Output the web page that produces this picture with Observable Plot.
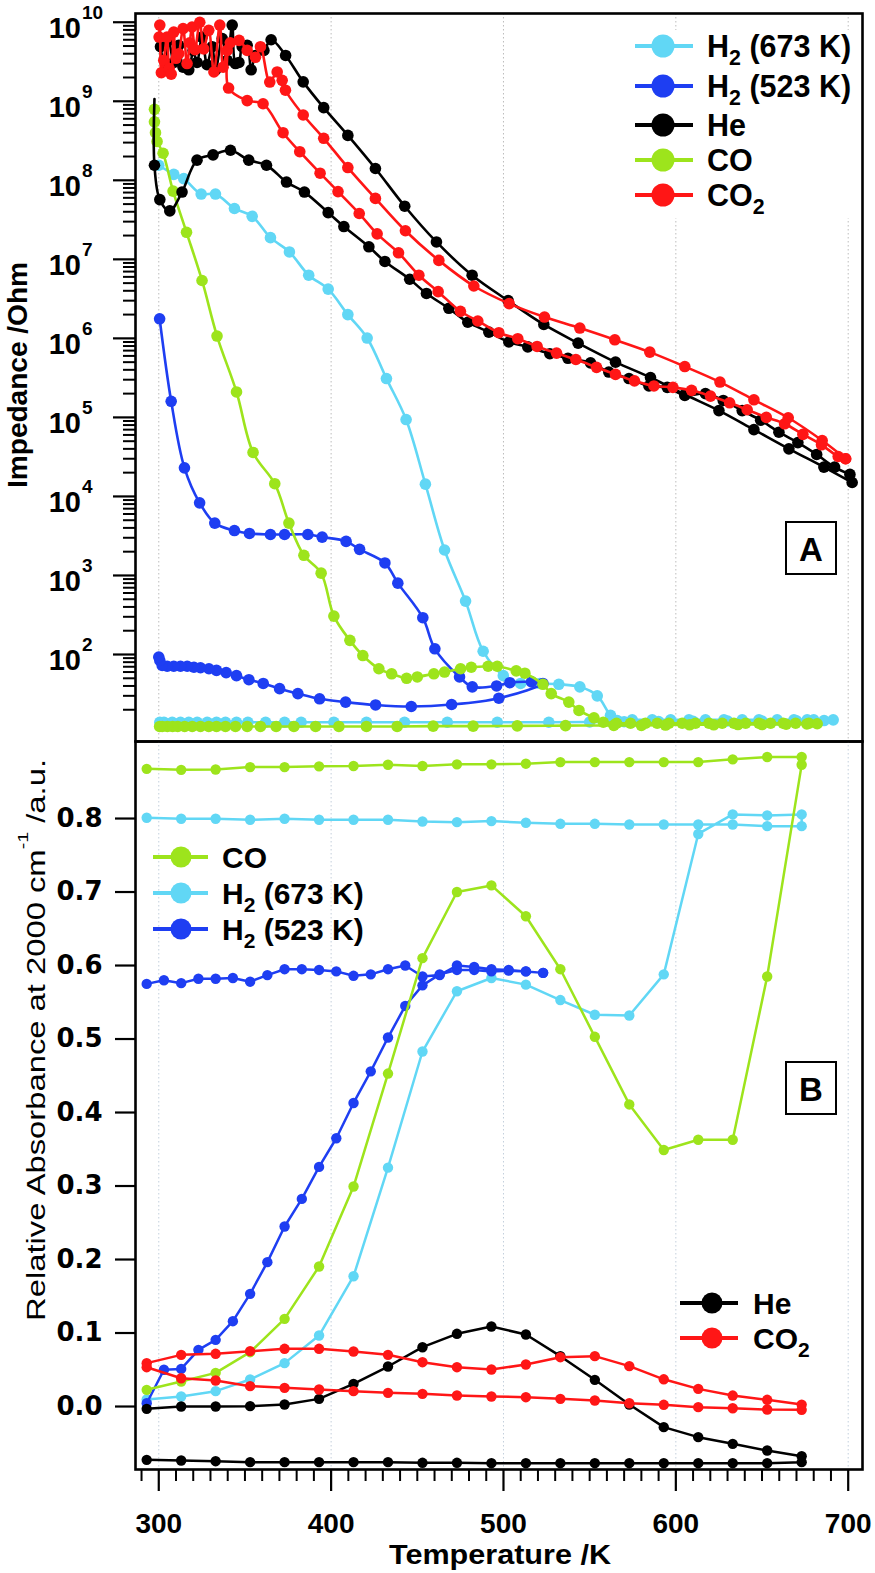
<!DOCTYPE html>
<html><head><meta charset="utf-8">
<script src="https://cdn.jsdelivr.net/npm/d3@7"></script>
<script src="https://cdn.jsdelivr.net/npm/@observablehq/plot@0.6"></script>
<style>
body{margin:0;background:#fff;}
#wrap{position:relative;width:875px;height:1573px;overflow:hidden;}
#wrap svg{position:absolute;left:0;top:0;}
.pb g[aria-label="y-axis tick label"]{font-family:"DejaVu Sans";font-weight:bold;font-size:26px;}
.pb g[aria-label="x-axis tick label"]{font-family:"Liberation Sans",Arial;font-weight:bold;font-size:28px;}
</style></head><body><div id="wrap"></div><script>
// ---------- colours ----------
const C_H673 = "#61d7f5", C_H523 = "#1e3ef2", C_HE = "#000000", C_CO = "#9de41c", C_CO2 = "#ff1616";

// ---------- Panel A : impedance (T [K], Ohm) ----------
const heA_up = [[301,4.9e9],[303.9,2.5e9],[305.8,5.9e9],[308.7,3.1e9],[311.6,5.1e9],[314.1,2.7e9],[317.4,2.5e9],[319.9,4.4e9],[322.2,3.1e9],[325.1,6.5e9],[328,2.9e9],[331,4.9e9],[333,2.5e9],[336.8,6.2e9],[339.7,3.3e9],[342.6,9.2e9],[344.5,3.0e9],[346.5,3.1e9],[348.4,4.9e9],[351.3,5.1e9],[353.6,2.5e9],[356.1,3.8e9],[361,4.4e9],[365.2,6.0e9],[373.6,3.8e9],[383.8,1.76e9],[395.7,8.3e8],[409.7,3.7e8],[425.7,1.41e8],[442.7,4.7e7],[461.1,1.66e7],[481.8,6.3e6],[502.7,3.0e6],[523.4,1.5e6],[543.3,8.7e5],[565,5.0e5],[585.3,3.2e5],[605.2,1.95e5],[625,1.22e5],[645.3,7.0e4],[665.6,4.0e4],[685.9,2.35e4],[702.3,1.5e4]];
const heA_lowStart = [[297.5,1.07e9]];
const heA_low = [[297.5,1.55e8],[300.6,5.7e7],[306.4,4.1e7],[313.5,7.1e7],[322.2,1.8e8],[331.5,2.1e8],[341.6,2.4e8],[352.2,1.8e8],[362.5,1.55e8],[374.1,9.5e7],[384.5,7.1e7],[398.3,3.9e7],[407.4,2.6e7],[421.9,1.44e7],[431.2,9.4e6],[445.6,5.6e6],[455.3,3.7e6],[468.3,2.4e6],[479.3,1.6e6],[491.5,1.2e6],[503.1,9.0e5],[514.1,7.8e5],[526.9,6.4e5],[537.4,5.6e5],[550.5,4.9e5],[561.1,3.75e5],[572.8,3.1e5],[584.4,2.5e5],[595,2.4e5],[605.2,1.9e5],[617.2,2.0e5],[627.5,1.64e5],[638.5,1.22e5],[649.2,9.2e4],[659.8,6.5e4],[670.8,4.8e4],[681.7,3.4e4],[692.1,2.35e4],[701,1.9e4]];
const co2A_low = [[300.2,6.5e9],[300.6,9.2e9],[301.5,2.3e9],[302.9,3.3e9],[304.8,6.5e9],[306,2.6e9],[307.2,2.2e9],[308.7,7.5e9],[310,3.5e9],[311.6,4.0e9],[314.1,8.3e9],[316.4,3.0e9],[318,5.5e9],[319.3,8.7e9],[321,4.5e9],[323.8,1.0e10],[326.1,4.6e9],[329,7.9e9],[332,2.35e9],[335.4,9.2e9],[337.3,2.7e9],[339.7,4.4e9],[340.5,1.47e9],[351.3,1.02e9],[360.5,9.3e8],[372.1,4.0e8],[381.8,2.3e8],[393.6,1.23e8],[404,7.2e7],[416.3,3.8e7],[426.7,2.1e7],[439.1,1.21e7],[450.9,6.3e6],[462.1,3.9e6],[475,2.2e6],[485.1,1.66e6],[497.3,1.18e6],[508.3,9.9e5],[519.5,7.9e5],[530.8,6.5e5],[542,5.4e5],[554,4.3e5],[565,3.5e5],[576,2.9e5],[587.3,2.5e5],[598.3,2.4e5],[609.1,2.2e5],[620.1,1.86e5],[631.2,1.53e5],[641.4,1.25e5],[652.5,1.0e5],[663.1,8.3e4],[673.7,6.1e4],[684.5,4.5e4],[694.2,3.2e4],[698.5,3.0e4]];
const co2A_up = [[341.5,5.5e9],[346.6,5.9e9],[351.3,4.4e9],[356.1,3.6e9],[359,4.9e9],[364.4,1.75e9],[368.7,2.35e9],[371.6,1.84e9],[373.5,1.38e9],[383.8,6.7e8],[395.7,3.4e8],[409.7,1.45e8],[425.7,5.9e7],[443.1,2.3e7],[462.5,9.7e6],[482.8,4.6e6],[503.3,2.75e6],[523.8,1.86e6],[544.3,1.35e6],[564.6,9.6e5],[584.9,6.7e5],[605.2,4.4e5],[625.6,2.8e5],[645.3,1.67e5],[665.2,9.9e4],[684.9,5.1e4],[698.5,3.0e4]];
const coA = [[297.5,7.9e8],[297.5,5.5e8],[298.1,4.0e8],[299,3.1e8],[302.5,2.2e8],[308.3,7.3e7],[316.1,2.2e7],[325.1,5.4e6],[333.8,1.07e6],[345.1,2.1e5],[354.7,3.6e4],[367.3,1.45e4],[375.5,4.6e3],[384.2,1.8e3],[394.2,1.07e3],[401.6,306],[410.9,151],[418.4,97],[427.7,66],[435.1,57],[443.8,50],[450,52],[459.6,57],[465.8,60],[475.1,66],[481.3,69],[491.1,71],[496.4,71],[507.4,62],[512.4,58],[522.9,42],[527.7,32],[537.9,25],[543.8,19.6],[552.5,15.8],[557.9,13.9],[565.6,13.5],[573.7,13.5],[582.4,13.5],[589.2,13.5],[596,13.5],[603.7,13.5],[611.4,13.5],[619.2,13.5],[626.9,13.5],[633.7,13.5],[640.5,13.5],[648.2,13.5],[655,13.5],[662.3,13.5],[669.5,13.5],[677.2,13.5],[682,13.3],
  [676,13.2],[664,13.1],[650,13.0],[636,13.0],[622,12.9],[608,12.9],[594,12.8],[580,12.7],[564,12.7],[536,12.6],[508,12.5],[482.4,12.4],[459.2,12.4],[438.3,12.3],[420.5,12.3],[404.5,12.3],[391,12.3],[378.4,12.3],[368.1,12.3],[359,12.3],[351.3,12.3],[344.5,12.3],[338.7,12.3],[333.5,12.3],[329,12.3],[324.2,12.3],[319.4,12.3],[315,12.3],[311,12.3],[308,12.3],[305,12.3],[302,12.3],[300.5,12.3]];
const h673A = [[300,1.55e8],[308.7,1.19e8],[314.5,1.05e8],[324.6,6.7e7],[332.9,6.7e7],[343.9,4.4e7],[354.2,3.5e7],[364.8,1.88e7],[375.8,1.24e7],[387,6.3e6],[398.3,4.2e6],[409.7,2.0e6],[420.9,1.01e6],[432.1,3.1e5],[443.5,9.4e4],[454.7,1.43e4],[465.8,2.1e3],[478,474],[488.2,110],[499.9,54],[509.9,43],[521.1,43],[532.1,42],[544.3,39],[554.4,30],[562.1,17],[566,14.6],[574.7,14.9],[586.3,14.9],[597,14.9],[607.6,14.9],[617.2,14.9],[627.9,14.9],[638.5,14.9],[648.2,14.9],[658.8,14.9],[668.5,14.9],[676.2,14.9],[680,14.9],[691.3,14.9],
  [686,14.6],[670,14.5],[650,14.4],[630,14.4],[610,14.3],[590,14.2],[570,14.1],[550,14.0],[526.3,13.9],[496.4,13.9],[467.4,13.9],[442.6,13.9],[420.5,13.9],[401.6,13.9],[382.6,13.9],[373,13.9],[362,13.9],[351.7,13.9],[345.1,13.9],[338.7,13.9],[333.5,13.9],[328.1,13.9],[322.3,13.9],[317.4,13.9],[312.6,13.9],[307.8,13.9],[303,13.9],[300.6,13.9]];
const h523A = [[300.5,1.77e6],[307.2,1.6e5],[314.9,2.3e4],[323.7,8.3e3],[332.5,4.6e3],[343.9,3.7e3],[352.6,3.4e3],[364.8,3.3e3],[373,3.3e3],[386.5,3.3e3],[394.8,3.06e3],[408.7,2.7e3],[416.5,2.14e3],[431.2,1.44e3],[438.7,800],[453.2,292],[460.2,118],[474.5,52],[481.9,39],[496,40],[503.7,44],[516.3,45],[522.9,43],
  [497.3,28],[469.9,23.3],[446.5,22],[425.8,23],[408.4,25],[393.3,27.5],[380.7,32],[370.1,37],[360.6,43],[352.3,48],[345.1,54],[339.1,59],[333.5,63],[329.1,66],[324.2,68],[320.4,69],[316.5,71],[312.6,71],[308.7,71],[304.9,71],[302,72.6],[300.6,84],[300,93]];

// ---------- Panel B : relative absorbance ----------
const tB = [293,313,333,353,373,393,413,433,453,473,493,513,533,553,573,593,613,633,653,673];
const tB523 = [293,303,313,323,333,343,353,363,373,383,393,403,413,423,433,443,453,463,473,483,493,503,513,523];
const coB_heat = [0.0227,0.034,0.0458,0.0739,0.1193,0.1905,0.2993,0.453,0.61,0.70,0.709,0.667,0.595,0.503,0.411,0.349,0.363,0.363,0.585,0.873];
const coB_cool = [0.8676,0.8662,0.8667,0.87,0.87,0.871,0.8714,0.8732,0.8714,0.8737,0.8737,0.8746,0.8768,0.8768,0.8768,0.8768,0.8768,0.8805,0.8837,0.8837];
const h673B_heat = [0.0095,0.0136,0.0209,0.0367,0.059,0.0966,0.1773,0.325,0.483,0.565,0.583,0.574,0.553,0.533,0.532,0.588,0.779,0.8056,0.8042,0.8056];
const h673B_cool = [0.801,0.7997,0.7997,0.7983,0.7997,0.7983,0.7983,0.7983,0.796,0.7951,0.7965,0.7942,0.7928,0.7928,0.7919,0.7919,0.7919,0.7919,0.7896,0.7896];
const h523B_heat = [0.0045,0.05,0.0512,0.0771,0.0907,0.1161,0.1533,0.1964,0.2449,0.2825,0.326,0.365,0.413,0.456,0.502,0.545,0.573,0.588,0.594,0.594,0.592,0.593,0.592,0.59];
const h523B_cool = [0.575,0.58,0.576,0.582,0.582,0.583,0.578,0.587,0.595,0.595,0.594,0.592,0.586,0.588,0.595,0.6,0.585,0.587,0.6,0.598,0.595,0.594,0.592,0.59];
const heB_heat = [-0.0032,0,0,0.0005,0.0027,0.0104,0.0308,0.0544,0.0807,0.0989,0.1088,0.098,0.0685,0.0363,0.0027,-0.0281,-0.0417,-0.0508,-0.0599,-0.0676];
const heB_cool = [-0.0726,-0.0735,-0.0744,-0.0757,-0.0757,-0.0757,-0.0757,-0.0757,-0.0766,-0.0766,-0.0771,-0.0771,-0.0771,-0.0771,-0.0771,-0.0771,-0.0771,-0.0771,-0.0771,-0.0757];
const co2B_heat = [0.059,0.0703,0.0717,0.0753,0.0785,0.0785,0.0748,0.0703,0.0603,0.0535,0.0503,0.0571,0.0671,0.0685,0.0549,0.037,0.024,0.0149,0.0091,0.0026];
const co2B_cool = [0.0535,0.0385,0.0354,0.0277,0.0254,0.0231,0.0209,0.0186,0.0172,0.015,0.0136,0.0127,0.0104,0.0082,0.0045,0.0023,-0.0009,-0.0023,-0.0041,-0.0045];

// ---------- ticks ----------
const gridT = [300,400,500,600,700];
const xMajor = [300,400,500,600,700];
const xMinor = d3.range(290,701,10).filter(t => t % 100 !== 0);
const decadesA = [2,3,4,5,6,7,8,9,10];
const yMajorA = decadesA.map(k => 10 ** k);
const yMinorA = [];
for (let k = 1; k <= 9; k++) for (let j = 2; j <= 9; j++) yMinorA.push(j * 10 ** k);
const yTicksB = [0,0.1,0.2,0.3,0.4,0.5,0.6,0.7,0.8];

// path builder: heating then cooling back
const loop = (t, heat, cool) => heat.map((v,i)=>[t[i],v]).concat(cool.map((v,i)=>[t[i],v]).reverse());

const W = 875, H = 1573, ML = 135, MR = 13;
const xDomain = [286.5, 708.3];
const X = d => d[0], Y = d => d[1];

const lineA = (data, c) => Plot.line(data, {x: X, y: Y, stroke: c, strokeWidth: 2.6, curve: "catmull-rom"});
const dotA = (data, c) => Plot.dot(data, {x: X, y: Y, fill: c, r: 5.8});

const pA = Plot.plot({
  width: W, height: H, marginLeft: ML, marginRight: MR, marginTop: 13, marginBottom: H - 741,
  style: {background: "transparent", fontFamily: "Liberation Sans, Arial"},
  x: {domain: xDomain, axis: null},
  y: {type: "log", domain: [7.93, 1.29e10]},
  marks: [
    Plot.ruleX(gridT, {stroke: "#bdbdbd", strokeWidth: 1, strokeDasharray: "1.5,2.5"}),
    Plot.axisY({ticks: yMinorA, tickSize: 12, tickFormat: () => "", strokeWidth: 2, label: null}),
    Plot.axisY({ticks: yMajorA, tickSize: 22, tickFormat: () => "", strokeWidth: 2.2, label: null}),
    lineA(h673A, C_H673), dotA(h673A, C_H673),
    lineA(h523A, C_H523), dotA(h523A, C_H523),
    lineA(coA, C_CO), dotA(coA, C_CO),
    lineA(heA_lowStart.concat(heA_low), C_HE), dotA(heA_low, C_HE),
    lineA(heA_up, C_HE), dotA(heA_up, C_HE),
    lineA(co2A_low, C_CO2), dotA(co2A_low, C_CO2),
    lineA(co2A_up, C_CO2), dotA(co2A_up, C_CO2),
    Plot.frame({stroke: "#000", strokeWidth: 2.6})
  ]
});

const lineB = (data, c) => Plot.line(data, {x: X, y: Y, stroke: c, strokeWidth: 2.5});
const dotB = (data, c) => Plot.dot(data, {x: X, y: Y, fill: c, r: 5.2});
const coB = loop(tB, coB_heat, coB_cool);
const h673B = loop(tB, h673B_heat, h673B_cool);
const h523B = loop(tB523, h523B_heat, h523B_cool);
const heB = loop(tB, heB_heat, heB_cool);
const co2B = loop(tB, co2B_heat, co2B_cool);

const pB = Plot.plot({
  className: "pb",
  width: W, height: H, marginLeft: ML, marginRight: MR, marginTop: 741, marginBottom: H - 1469,
  style: {background: "transparent", fontFamily: "Liberation Sans, Arial"},
  x: {domain: xDomain},
  y: {domain: [-0.0857, 0.9048]},
  marks: [
    Plot.ruleX(gridT, {stroke: "#c3cfdc", strokeWidth: 1, strokeDasharray: "1.5,2.5"}),
    Plot.axisY({ticks: yTicksB, tickSize: 20, tickPadding: 13, tickFormat: d3.format(".1f"), strokeWidth: 2.2, label: null,
      fontFamily: "DejaVu Sans", fontWeight: "bold", fontSize: 26}),
    Plot.axisX({ticks: xMinor, tickSize: 12, tickFormat: () => "", strokeWidth: 2, label: null}),
    Plot.axisX({ticks: xMajor, tickSize: 22, tickPadding: 22, tickFormat: d => String(d), strokeWidth: 2.2, label: null,
      fontFamily: "Liberation Sans", fontWeight: "bold", fontSize: 28}),
    lineB(h673B, C_H673), dotB(h673B, C_H673),
    lineB(h523B, C_H523), dotB(h523B, C_H523),
    lineB(coB, C_CO), dotB(coB, C_CO),
    lineB(heB, C_HE), dotB(heB, C_HE),
    lineB(co2B, C_CO2), dotB(co2B, C_CO2),
    Plot.frame({stroke: "#000", strokeWidth: 2.6})
  ]
});

const wrap = document.getElementById("wrap");
wrap.appendChild(pA);
wrap.appendChild(pB);

// ---------- overlays (labels, legends) ----------
const svg = d3.select(pB);
const ov = svg.append("g").attr("font-family", "Liberation Sans, Arial").attr("text-anchor", "start");
const yA = v => pA.scale("y").apply(v);

// Panel A decade labels 10^k
for (const k of decadesA) {
  const yy = yA(10 ** k);
  ov.append("text").attr("x", 81).attr("y", yy + 16).attr("text-anchor", "end")
    .attr("font-size", 29).attr("font-weight", "bold").text("10");
  ov.append("text").attr("x", 82).attr("y", yy - 3).attr("text-anchor", "start")
    .attr("font-size", 19).attr("font-weight", "bold").text(String(k));
}

// axis titles
ov.append("text").attr("transform", "translate(27,375) rotate(-90)").attr("text-anchor", "middle")
  .attr("font-size", 28).attr("font-weight", "bold")
  .attr("textLength", 226).attr("lengthAdjust", "spacingAndGlyphs").text("Impedance /Ohm");
const yl = ov.append("text").attr("transform", "translate(45,1040) rotate(-90)").attr("text-anchor", "middle")
  .attr("font-size", 25).attr("textLength", 562).attr("lengthAdjust", "spacingAndGlyphs");
yl.append("tspan").text("Relative Absorbance at 2000 cm");
yl.append("tspan").attr("dy", -17).attr("font-size", 15).text("-1");
yl.append("tspan").attr("dy", 17).text(" /a.u.");
ov.append("text").attr("x", 500).attr("y", 1564).attr("text-anchor", "middle")
  .attr("font-size", 28).attr("font-weight", "bold")
  .attr("textLength", 222).attr("lengthAdjust", "spacingAndGlyphs").text("Temperature /K");

// panel letters
function panelBox(x0, y0, label) {
  ov.append("rect").attr("x", x0).attr("y", y0).attr("width", 50).attr("height", 52)
    .attr("fill", "#fff").attr("stroke", "#000").attr("stroke-width", 2);
  ov.append("text").attr("x", x0 + 25).attr("y", y0 + 39).attr("text-anchor", "middle")
    .attr("font-size", 33).attr("font-weight", "bold").text(label);
}
panelBox(786, 522, "A");
panelBox(786, 1062, "B");

// legends
function legend(items, x1, x2, xd, xt, rows, r, fs) {
  items.forEach((it, i) => {
    const y = rows[i];
    ov.append("line").attr("x1", x1).attr("x2", x2).attr("y1", y).attr("y2", y)
      .attr("stroke", it.c).attr("stroke-width", 4);
    ov.append("circle").attr("cx", xd).attr("cy", y).attr("r", r).attr("fill", it.c);
    const t = ov.append("text").attr("x", xt).attr("y", y + fs * 0.36).attr("text-anchor", "start")
      .attr("font-size", fs).attr("font-weight", "bold");
    t.append("tspan").text(it.l[0]);
    if (it.l[1]) {
      t.append("tspan").attr("dy", 8).attr("font-size", fs * 0.7).text(it.l[1]);
      if (it.l[2]) t.append("tspan").attr("dy", -8).text(it.l[2]);
    }
  });
}
ov.insert("rect", ":first-child").attr("x", 622).attr("y", 30).attr("width", 238).attr("height", 188).attr("fill", "#fff");
legend([
  {c: C_H673, l: ["H", "2", " (673 K)"]},
  {c: C_H523, l: ["H", "2", " (523 K)"]},
  {c: C_HE, l: ["He"]},
  {c: C_CO, l: ["CO"]},
  {c: C_CO2, l: ["CO", "2"]}
], 635, 693, 663, 707, [46, 86, 125, 160, 195], 11.5, 30.5);
legend([
  {c: C_CO, l: ["CO"]},
  {c: C_H673, l: ["H", "2", " (673 K)"]},
  {c: C_H523, l: ["H", "2", " (523 K)"]}
], 153, 208, 181, 222, [857, 893, 929], 10.5, 30);
legend([
  {c: C_HE, l: ["He"]},
  {c: C_CO2, l: ["CO", "2"]}
], 680, 738, 712, 753, [1303, 1338], 10.5, 30);
</script></body></html>
